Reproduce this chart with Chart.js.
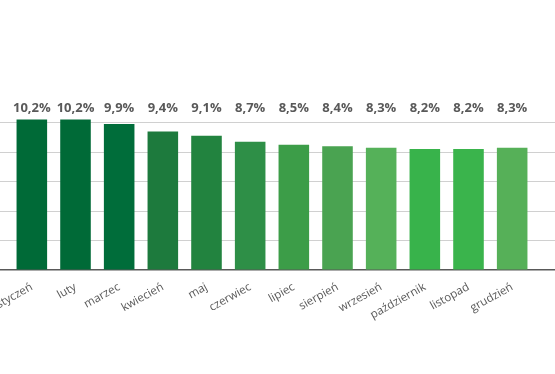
<!DOCTYPE html>
<html>
<head>
<meta charset="utf-8">
<script src="https://cdn.jsdelivr.net/npm/chart.js@4"></script>
<style>
  html, body { margin: 0; padding: 0; background: #fff; }
  #wrap { position: relative; width: 555px; height: 374px; }
</style>
</head>
<body>
<div id="wrap"><canvas id="chart"></canvas></div>
<script>
// dane
const months = ["styczeń", "luty", "marzec", "kwiecień", "maj", "czerwiec", "lipiec", "sierpień", "wrzesień", "październik", "listopad", "grudzień"];
const values = [10.2, 10.2, 9.9, 9.4, 9.1, 8.7, 8.5, 8.4, 8.3, 8.2, 8.2, 8.3];
const barColors = ["#006a37", "#006a37", "#006d3a", "#1d7a3d", "#22833f", "#2e8f47", "#3c9d48", "#4aa351", "#55b159", "#38b34b", "#3ab44c", "#56b058"];

const textGray = "#595959";
const gridGray = "#d0d0d0";

// etykiety wartości nad słupkami (wszystkie na tej samej wysokości)
const valueLabels = {
    id: "valueLabels",
    afterDatasetsDraw(chart) {
        const ctx = chart.ctx;
        const y = chart.scales.y.getPixelForValue(10.98);
        ctx.save();
        ctx.font = "bold 13px 'Open Sans'";
        ctx.fillStyle = textGray;
        ctx.textAlign = "center";
        ctx.textBaseline = "middle";
        chart.getDatasetMeta(0).data.forEach((bar, i) => {
            ctx.fillText(values[i].toFixed(1).replace(".", ",") + "%", bar.x, y);
        });
        ctx.restore();
    }
};

function gridColor(c) {
    if (c.tick.value === 0) return textGray;
    if (c.tick.value > 10) return "rgba(0,0,0,0)";
    return gridGray;
}

new Chart(document.getElementById("chart").getContext("2d"), {
    type: "bar",
    data: {
        labels: months,
        datasets: [{
            data: values,
            backgroundColor: barColors,
            categoryPercentage: 0.7,
            barPercentage: 1.0
        }]
    },
    options: {
        responsive: true,
        maintainAspectRatio: false,
        animation: false,
        layout: { padding: { top: 93, bottom: 50, left: 0, right: 0 } },
        plugins: { legend: { display: false }, tooltip: { enabled: false } },
        scales: {
            x: {
                grid: { display: false },
                border: { display: false },
                ticks: {
                    color: textGray,
                    font: { family: "'Open Sans'", size: 11.5 },
                    minRotation: 29,
                    maxRotation: 29,
                    padding: 2
                },
                // pierwsza etykieta ma wychodzić poza lewą krawędź, jak w oryginale
                afterFit(scale) { scale.paddingLeft = 0; scale.paddingRight = 0; }
            },
            y: {
                min: 0,
                max: 12,
                position: "left",
                border: { display: false },
                ticks: { display: false, stepSize: 2 },
                grid: { color: gridColor, lineWidth: c => c.tick.value === 0 ? 1.5 : 1, tickLength: 10, drawTicks: true },
                afterFit(scale) { scale.width = 10; }
            },
            y2: {
                min: 0,
                max: 12,
                position: "right",
                border: { display: false },
                ticks: { display: false, stepSize: 2 },
                grid: { color: gridColor, lineWidth: c => c.tick.value === 0 ? 1.5 : 1, tickLength: 21, drawTicks: true, drawOnChartArea: false },
                afterFit(scale) { scale.width = 21; }
            }
        }
    },
    plugins: [valueLabels]
});
</script>
</body>
</html>
